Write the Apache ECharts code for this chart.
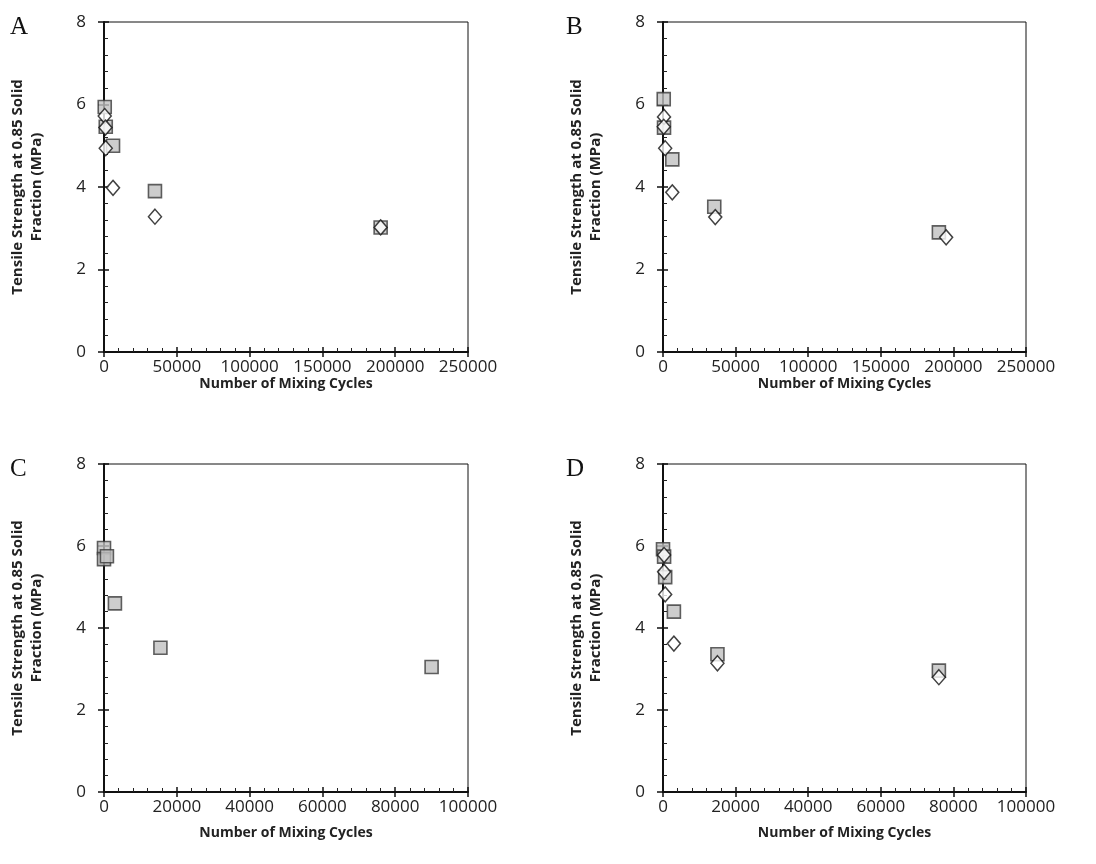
<!DOCTYPE html>
<html>
<head>
<meta charset="utf-8">
<script src="https://cdn.jsdelivr.net/npm/echarts@6/dist/echarts.min.js"></script>
<style>
  html, body { margin: 0; padding: 0; background: #fff; }
  #chart { width: 1096px; height: 864px; }
</style>
</head>
<body>
<div id="chart"></div>
<script>
// panel A
const aSquares = [[500, 5.94], [1200, 5.46], [6200, 5.0], [35000, 3.9], [190000, 3.02]];
const aDiamonds = [[500, 5.72], [1000, 5.44], [1200, 4.94], [6200, 3.98], [35000, 3.28], [190000, 3.02]];
// panel B
const bSquares = [[500, 6.13], [700, 5.44], [6400, 4.67], [35300, 3.52], [190000, 2.9]];
const bDiamonds = [[700, 5.7], [500, 5.46], [1500, 4.94], [6400, 3.87], [36000, 3.27], [195000, 2.78]];
// panel C
const cSquares = [[0, 5.95], [0, 5.68], [800, 5.75], [3000, 4.6], [15500, 3.52], [90000, 3.05]];
// panel D
const dSquares = [[0, 5.92], [300, 5.74], [600, 5.24], [3000, 4.4], [15000, 3.36], [76000, 2.96]];
const dDiamonds = [[300, 5.78], [300, 5.37], [600, 4.82], [3000, 3.62], [15000, 3.14], [76000, 2.8]];

const panelLetters = ['A', 'B', 'C', 'D'];
const xMax = [250000, 250000, 100000, 100000];
const xStep = [50000, 50000, 20000, 20000];
const yMax = 8;
const yStep = 2;

const xTitle = 'Number of Mixing Cycles';
const yTitle = 'Tensile Strength at 0.85 Solid\nFraction (MPa)';

const grids = [
  { left: 104, top: 22, width: 364, height: 330 },
  { left: 663, top: 22, width: 363, height: 330 },
  { left: 104, top: 464, width: 364, height: 328 },
  { left: 663, top: 464, width: 363, height: 328 }
];

const font = '"Open Sans", "Noto Sans", sans-serif';

const chart = echarts.init(document.getElementById('chart'));

const xAxes = [];
const yAxes = [];
grids.forEach((g, i) => {
  // main axes: labels, inner major + minor ticks
  xAxes.push({
    type: 'value', gridIndex: i, position: 'bottom', min: 0, max: xMax[i], interval: xStep[i],
    name: xTitle, nameLocation: 'middle', nameGap: i < 2 ? 24 : 34,
    nameTextStyle: { fontFamily: font, fontWeight: 'bold', fontSize: 14, color: '#222' },
    axisLine: { show: true, onZero: false, lineStyle: { color: '#111', width: 2 } },
    axisTick: { show: true, inside: true, length: 5, lineStyle: { color: '#111', width: 1.5 } },
    minorTick: { show: true, splitNumber: 5, length: 4, lineStyle: { color: '#222', width: 1 } },
    axisLabel: { fontFamily: font, fontSize: 17, color: '#222', margin: 7, formatter: v => String(v) },
    splitLine: { show: false }
  });
  // overlay axis for the outside part of major ticks
  xAxes.push({
    type: 'value', gridIndex: i, position: 'bottom', offset: 0, min: 0, max: xMax[i], interval: xStep[i],
    axisLine: { show: false, onZero: false },
    axisTick: { show: true, inside: false, length: 5, lineStyle: { color: '#111', width: 1.5 } },
    axisLabel: { show: false }, splitLine: { show: false }
  });
  yAxes.push({
    type: 'value', gridIndex: i, position: 'left', min: 0, max: yMax, interval: yStep,
    name: yTitle, nameLocation: 'middle', nameGap: 58, nameRotate: 90,
    nameTextStyle: { fontFamily: font, fontWeight: 'bold', fontSize: 15, color: '#222', lineHeight: 19, align: 'center' },
    axisLine: { show: true, onZero: false, lineStyle: { color: '#111', width: 2 } },
    axisTick: { show: true, inside: true, length: 5, lineStyle: { color: '#111', width: 1.5 } },
    minorTick: { show: true, splitNumber: 5, length: 4, lineStyle: { color: '#222', width: 1 } },
    axisLabel: { fontFamily: font, fontSize: 17, color: '#222', margin: 18 },
    splitLine: { show: false }
  });
  yAxes.push({
    type: 'value', gridIndex: i, position: 'left', offset: 0, min: 0, max: yMax, interval: yStep,
    axisLine: { show: false, onZero: false },
    axisTick: { show: true, inside: false, length: 6, lineStyle: { color: '#111', width: 1.5 } },
    axisLabel: { show: false }, splitLine: { show: false }
  });
});

const squareStyle = { color: '#c0c0c0', borderColor: '#3a3a3a', borderWidth: 1.6 };
const diamondStyle = { color: '#fff', borderColor: '#111', borderWidth: 1.5 };

function squares(data, i) {
  return {
    type: 'scatter', xAxisIndex: i * 2, yAxisIndex: i * 2, data: data,
    symbol: 'rect', symbolSize: 13, itemStyle: squareStyle, silent: true
  };
}
function diamonds(data, i) {
  return {
    type: 'scatter', xAxisIndex: i * 2, yAxisIndex: i * 2, data: data,
    symbol: 'diamond', symbolSize: [13, 15], itemStyle: diamondStyle, silent: true, z: 3
  };
}

const option = {
  animation: false,
  backgroundColor: '#fff',
  grid: grids.map(g => Object.assign({ show: true, borderColor: '#111', borderWidth: 1, backgroundColor: 'transparent' }, g)),
  xAxis: xAxes,
  yAxis: yAxes,
  graphic: panelLetters.map((t, i) => ({
    type: 'text',
    left: i % 2 === 0 ? 10 : 566,
    top: i < 2 ? 15 : 457,
    style: { text: t, font: '25px "Liberation Serif", "DejaVu Serif", serif', fill: '#111' }
  })),
  series: [
    squares(aSquares, 0), diamonds(aDiamonds, 0),
    squares(bSquares, 1), diamonds(bDiamonds, 1),
    squares(cSquares, 2),
    squares(dSquares, 3), diamonds(dDiamonds, 3)
  ]
};

chart.setOption(option);
window.addEventListener('resize', () => chart.resize());
</script>
</body>
</html>
